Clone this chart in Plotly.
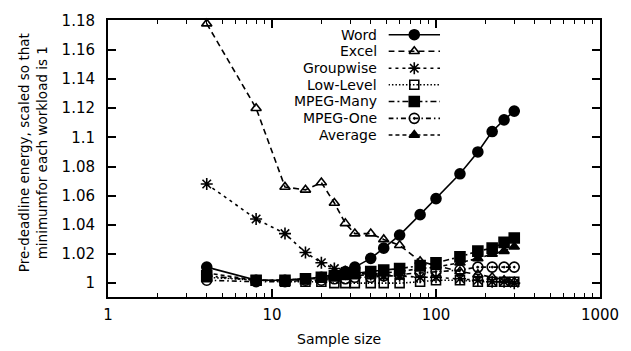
import plotly.graph_objects as go

sizes = [4, 8, 12, 16, 20, 24, 28, 32, 40, 48, 60, 80, 100, 140, 180, 220, 260, 300]

word = [1.011, 1.002, 1.002, 1.003, 1.004, 1.006, 1.008, 1.011, 1.017, 1.024, 1.033, 1.047, 1.058, 1.075, 1.090, 1.104, 1.112, 1.118]
excel = [1.178, 1.120, 1.066, 1.064, 1.069, 1.055, 1.041, 1.034, 1.034, 1.030, 1.026, 1.015, 1.012, 1.008, 1.006, 1.004, 1.002, 1.001]
groupwise = [1.068, 1.044, 1.034, 1.021, 1.014, 1.010, 1.008, 1.007, 1.006, 1.005, 1.005, 1.004, 1.004, 1.003, 1.002, 1.001, 1.001, 1.000]
lowlevel = [1.004, 1.002, 1.001, 1.001, 1.001, 1.000, 1.000, 1.000, 1.000, 1.000, 1.000, 1.001, 1.002, 1.002, 1.001, 1.001, 1.001, 1.001]
mpeg_many = [1.005, 1.002, 1.002, 1.003, 1.004, 1.005, 1.006, 1.007, 1.008, 1.009, 1.010, 1.012, 1.014, 1.018, 1.022, 1.024, 1.028, 1.031]
mpeg_one = [1.002, 1.001, 1.001, 1.002, 1.002, 1.003, 1.003, 1.004, 1.004, 1.005, 1.006, 1.007, 1.008, 1.009, 1.011, 1.011, 1.011, 1.011]
average = [1.007, 1.002, 1.002, 1.003, 1.003, 1.004, 1.005, 1.005, 1.006, 1.007, 1.008, 1.010, 1.011, 1.014, 1.017, 1.020, 1.022, 1.025]

names = ["Word", "Excel", "Groupwise", "Low-Level", "MPEG-Many", "MPEG-One", "Average"]
series = [word, excel, groupwise, lowlevel, mpeg_many, mpeg_one, average]
dashes = ["solid", "6px,4px", "3px,4px", "1.5px,2px", "6px,3px,2px,3px", "5px,3px,1.5px,3px", "4px,3px"]
symbols = ["circle", "triangle-up-open", "asterisk-open", "square-open", "square", "circle-open-dot", "triangle-up"]
msizes = [10, 9, 10, 9, 10, 10, 9]

FONT = "DejaVu Sans, Liberation Sans, Arial, sans-serif"
fig = go.Figure()

for nm, ys, d, s, ms in zip(names, series, dashes, symbols, msizes):
    fig.add_trace(go.Scatter(
        x=sizes, y=ys, name=nm, mode="lines+markers",
        line=dict(color="black", width=1.6, dash=d),
        marker=dict(symbol=s, size=ms, color="black", line=dict(color="black", width=1.6)),
        cliponaxis=False, showlegend=False))

# legend samples drawn on an auxiliary axis pair
row_y = [0.947, 0.887, 0.826, 0.766, 0.706, 0.645, 0.585]
for nm, d, s, ms, ry in zip(names, dashes, symbols, msizes, row_y):
    fig.add_trace(go.Scatter(
        x=[0, 0.5, 1], y=[ry, ry, ry], mode="lines+markers",
        line=dict(color="black", width=1.6, dash=d),
        marker=dict(symbol=s, size=ms, color="black", opacity=[0, 1, 0],
                    line=dict(color="black", width=1.6)),
        xaxis="x2", yaxis="y2", showlegend=False, hoverinfo="skip"))
    fig.add_annotation(x=0.549, y=ry, xref="paper", yref="paper", text=nm,
                       showarrow=False, xanchor="right", yanchor="middle",
                       borderpad=0,
                       font=dict(family=FONT, size=14, color="black"))

fig.add_annotation(x=-0.152, y=0.52, xref="paper", yref="paper",
                   text="Pre-deadline energy, scaled so that<br>minimumfor each workload is 1",
                   textangle=-90, showarrow=False, xanchor="center", yanchor="middle",
                   font=dict(family=FONT, size=13.5, color="black"))
fig.add_annotation(x=0.469, y=-0.152, xref="paper", yref="paper", text="Sample size",
                   showarrow=False, xanchor="center", yanchor="middle",
                   font=dict(family=FONT, size=14, color="black"))

fig.update_layout(
    width=631, height=351,
    margin=dict(l=108, r=28, t=15, b=54),
    paper_bgcolor="white", plot_bgcolor="rgba(0,0,0,0)",
    font=dict(family=FONT, size=15, color="black"),
    xaxis=dict(type="log", range=[0, 3], tickvals=[1, 10, 100, 1000], ticktext=["1", "10", "100", "1000"],
               ticks="inside", ticklen=8, tickwidth=1.5, tickcolor="black",
               showline=True, linecolor="black", linewidth=2, mirror="ticks",
               showgrid=False, zeroline=False, ticklabelstandoff=3,
               minor=dict(ticks="inside", ticklen=4, tickwidth=1.2, tickcolor="black",
                          tickvals=[2, 3, 4, 5, 6, 7, 8, 9, 20, 30, 40, 50, 60, 70, 80, 90,
                                    200, 300, 400, 500, 600, 700, 800, 900], showgrid=False)),
    yaxis=dict(range=[0.9905, 1.1805], tickvals=[1, 1.02, 1.04, 1.06, 1.08, 1.1, 1.12, 1.14, 1.16, 1.18],
               ticktext=["1", "1.02", "1.04", "1.06", "1.08", "1.1", "1.12", "1.14", "1.16", "1.18"],
               ticks="inside", ticklen=8, tickwidth=1.5, tickcolor="black",
               showline=True, linecolor="black", linewidth=2, mirror="ticks",
               showgrid=False, zeroline=False, ticklabelstandoff=8),
    xaxis2=dict(domain=[0.570, 0.675], range=[0, 1], anchor="y2", visible=False, fixedrange=True),
    yaxis2=dict(domain=[0, 1], range=[0, 1], anchor="x2", visible=False, fixedrange=True),
)

fig.write_html("out.html")
